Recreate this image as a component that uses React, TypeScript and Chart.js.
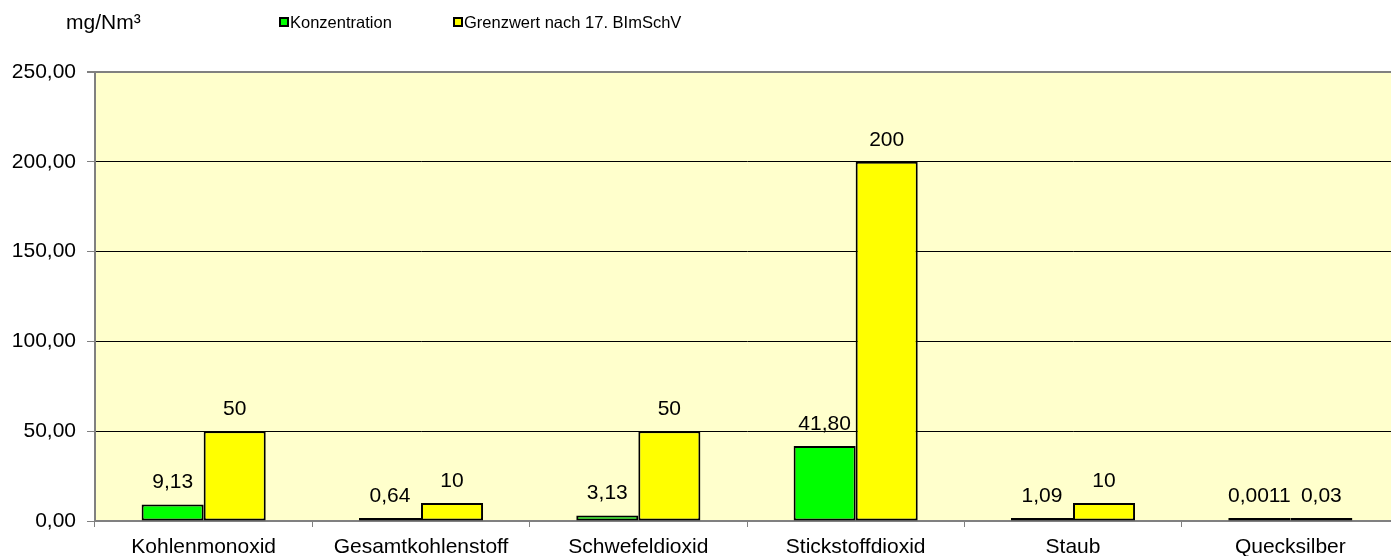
import React, { useEffect, useRef } from 'react';
import { Chart, registerables } from 'chart.js';

Chart.register(...registerables);

const categories = ['Kohlenmonoxid', 'Gesamtkohlenstoff', 'Schwefeldioxid', 'Stickstoffdioxid', 'Staub', 'Quecksilber'];
const konzentration = [9.13, 0.64, 3.13, 41.8, 1.09, 0.0011];
const grenzwert = [50, 10, 50, 200, 10, 0.03];
const konzentrationLabels = ['9,13', '0,64', '3,13', '41,80', '1,09', '0,0011'];
const grenzwertLabels = ['50', '10', '50', '200', '10', '0,03'];
const seriesNames = ['Konzentration', 'Grenzwert nach 17. BImSchV'];
const unitLabel = 'mg/Nm³';
const yMin = 0;
const yMax = 250;
const yStep = 50;

const FONT = "'Liberation Sans', Arial, sans-serif";
const GREEN = '#00FF00';
const YELLOW = '#FFFF00';
const PLOT_BG = '#FFFFCC';
const GRAY = '#808080';

const bgPlugin = {
  id: 'plotBg',
  beforeDraw(chart: any) {
    const { ctx, chartArea } = chart;
    ctx.save();
    ctx.fillStyle = PLOT_BG;
    ctx.fillRect(chartArea.left, chartArea.top, chartArea.right - chartArea.left, chartArea.bottom - chartArea.top);
    ctx.restore();
  },
};

const dataLabelPlugin = {
  id: 'dataLabels',
  afterDatasetsDraw(chart: any) {
    const { ctx } = chart;
    ctx.save();
    ctx.fillStyle = '#000';
    ctx.font = `21px ${FONT}`;
    ctx.textAlign = 'center';
    ctx.textBaseline = 'middle';
    chart.data.datasets.forEach((_ds: any, di: number) => {
      const meta = chart.getDatasetMeta(di);
      const labels = di === 0 ? konzentrationLabels : grenzwertLabels;
      meta.data.forEach((el: any, i: number) => {
        ctx.fillText(labels[i], el.x, el.y - 22);
      });
    });
    ctx.restore();
  },
};

const headerPlugin = {
  id: 'header',
  afterDraw(chart: any) {
    const { ctx } = chart;
    ctx.save();
    ctx.fillStyle = '#000';
    ctx.textBaseline = 'middle';
    ctx.textAlign = 'left';
    ctx.font = `21px ${FONT}`;
    ctx.fillText(unitLabel, 66, 23);
    const items = [
      { x: 280, color: GREEN, text: seriesNames[0] },
      { x: 454, color: YELLOW, text: seriesNames[1] },
    ];
    ctx.font = `16.5px ${FONT}`;
    items.forEach((it) => {
      ctx.fillStyle = it.color;
      ctx.fillRect(it.x, 18, 8, 8);
      ctx.strokeStyle = '#000';
      ctx.lineWidth = 2;
      ctx.strokeRect(it.x, 18, 8, 8);
      ctx.fillStyle = '#000';
      ctx.fillText(it.text, it.x + 10, 23);
    });
    ctx.restore();
  },
};

export default function App() {
  const ref = useRef<HTMLCanvasElement | null>(null);

  useEffect(() => {
    if (!ref.current) return;
    const chart = new Chart(ref.current, {
      type: 'bar',
      data: {
        labels: categories,
        datasets: [
          {
            label: seriesNames[0],
            data: konzentration,
            backgroundColor: GREEN,
            borderColor: '#000',
            borderWidth: 2,
            borderSkipped: false,
            minBarLength: 3,
          },
          {
            label: seriesNames[1],
            data: grenzwert,
            backgroundColor: YELLOW,
            borderColor: '#000',
            borderWidth: 2,
            borderSkipped: false,
            minBarLength: 3,
          },
        ],
      },
      options: {
        responsive: false,
        animation: false,
        events: [],
        layout: { padding: { top: 72, right: 11, left: 0, bottom: 0 } },
        datasets: {
          bar: { categoryPercentage: 0.571, barPercentage: 1 },
        },
        plugins: {
          legend: { display: false },
          title: { display: false },
          tooltip: { enabled: false },
        },
        scales: {
          x: {
            offset: true,
            grid: {
              offset: true,
              drawOnChartArea: false,
              color: GRAY,
              tickColor: GRAY,
              tickLength: 6,
            },
            border: { color: GRAY, width: 2 },
            ticks: {
              color: '#000',
              font: { family: FONT, size: 21 },
              padding: 8,
              maxRotation: 0,
              autoSkip: false,
            },
            afterFit(scale: any) {
              scale.height = 35;
            },
          },
          y: {
            min: yMin,
            max: yMax,
            grid: {
              color: (c: any) => (c.tick && (c.tick.value === yMax || c.tick.value === yMin) ? GRAY : '#000'),
              lineWidth: (c: any) => (c.tick && c.tick.value === yMax ? 2 : 1),
              tickColor: GRAY,
              tickLength: 8,
            },
            border: { color: GRAY, width: 2 },
            ticks: {
              stepSize: yStep,
              color: '#000',
              font: { family: FONT, size: 21 },
              padding: 11,
              callback: (v: any) => Number(v).toFixed(2).replace('.', ','),
            },
            afterFit(scale: any) {
              scale.width = 95;
            },
          },
        },
      },
      plugins: [bgPlugin, dataLabelPlugin, headerPlugin],
    });
    return () => chart.destroy();
  }, []);

  return (
    <div
      style={{
        position: 'fixed',
        left: 0,
        top: 0,
        width: 1391,
        height: 556,
        overflow: 'hidden',
        background: '#fff',
      }}
    >
      <canvas ref={ref} width={1410} height={556} style={{ width: 1410, height: 556, display: 'block' }} />
    </div>
  );
}
